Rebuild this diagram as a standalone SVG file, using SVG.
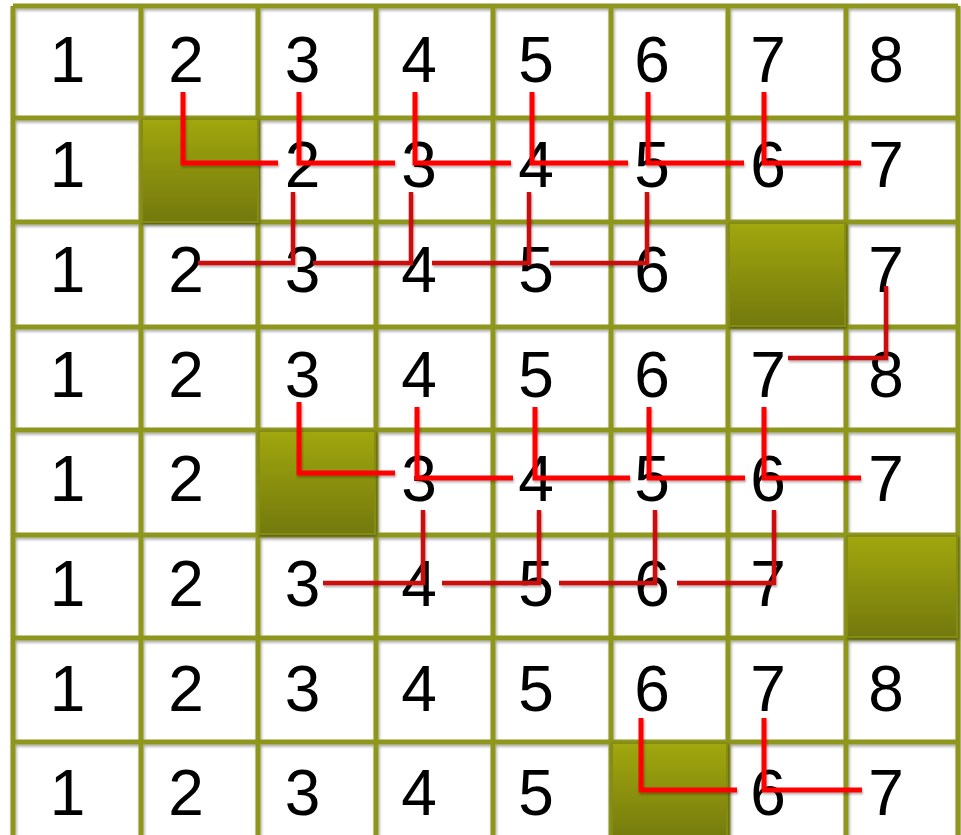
<svg xmlns="http://www.w3.org/2000/svg" width="961" height="835" viewBox="0 0 961 835">
<defs>
<linearGradient id="olive" x1="0" y1="0" x2="0" y2="1">
<stop offset="0" stop-color="#a1a70c"/>
<stop offset="1" stop-color="#737907"/>
</linearGradient>
<filter id="sh" x="-10%" y="-10%" width="130%" height="130%">
<feGaussianBlur in="SourceAlpha" stdDeviation="1.5"/>
<feOffset dx="1" dy="2" result="b"/>
<feComponentTransfer><feFuncA type="linear" slope="0.35"/></feComponentTransfer>
<feMerge><feMergeNode/><feMergeNode in="SourceGraphic"/></feMerge>
</filter>
<filter id="lsh" x="-20%" y="-20%" width="140%" height="140%">
<feGaussianBlur in="SourceAlpha" stdDeviation="1"/>
<feOffset dx="1" dy="1.5"/>
<feComponentTransfer><feFuncA type="linear" slope="0.3"/></feComponentTransfer>
<feMerge><feMergeNode/><feMergeNode in="SourceGraphic"/></feMerge>
</filter>
</defs>
<style>
.grid{fill:none;stroke:#8e961f;stroke-width:5}
.dark{fill:url(#olive);stroke:#858c12;stroke-width:2}
.n{font-family:"Liberation Sans",Arial,sans-serif;font-size:64px;fill:#000;text-anchor:middle}
.br{fill:none;stroke:#ff0000;stroke-width:5;stroke-linejoin:miter}
.dr{fill:none;stroke:#cc0d0d;stroke-width:4.5;stroke-linejoin:miter}
</style>
<rect x="0" y="0" width="961" height="835" fill="#ffffff"/>
<g id="grid" filter="url(#sh)">
<path class="grid" d="M13,6V835M141,6V835M258,6V835M376,6V835M493,6V835M611,6V835M728,6V835M846,6V835M958,6V835M13,6H958M13,118H958M13,222H958M13,327H958M13,430H958M13,535H958M13,638H958M13,742H958"/>
</g>
<g id="blocks" filter="url(#sh)">
<rect id="block-r2c2" class="dark" x="142" y="119" width="116" height="103"/>
<rect id="block-r3c7" class="dark" x="729" y="223" width="116" height="103"/>
<rect id="block-r5c3" class="dark" x="259" y="431" width="116" height="103"/>
<rect id="block-r6c8" class="dark" x="847" y="536" width="110" height="101"/>
<rect id="block-r8c6" class="dark" x="612" y="743" width="115" height="100"/>
</g>
<g id="r1">
<g id="r1c1"><text class="n" x="67.5" y="82">1</text></g>
<g id="r1c2"><text class="n" x="186" y="82">2</text></g>
<g id="r1c3"><text class="n" x="302.5" y="82">3</text></g>
<g id="r1c4"><text class="n" x="419" y="82">4</text></g>
<g id="r1c5"><text class="n" x="536" y="82">5</text></g>
<g id="r1c6"><text class="n" x="652" y="82">6</text></g>
<g id="r1c7"><text class="n" x="768" y="82">7</text></g>
<g id="r1c8"><text class="n" x="886" y="82">8</text></g>
</g>
<g id="r2">
<g id="r2c1"><text class="n" x="67.5" y="187">1</text></g>
<g id="r2c3"><text class="n" x="302.5" y="187">2</text></g>
<g id="r2c4"><text class="n" x="419" y="187">3</text></g>
<g id="r2c5"><text class="n" x="536" y="187">4</text></g>
<g id="r2c6"><text class="n" x="652" y="187">5</text></g>
<g id="r2c7"><text class="n" x="768" y="187">6</text></g>
<g id="r2c8"><text class="n" x="886" y="187">7</text></g>
</g>
<g id="r3">
<g id="r3c1"><text class="n" x="67.5" y="292">1</text></g>
<g id="r3c2"><text class="n" x="186" y="292">2</text></g>
<g id="r3c3"><text class="n" x="302.5" y="292">3</text></g>
<g id="r3c4"><text class="n" x="419" y="292">4</text></g>
<g id="r3c5"><text class="n" x="536" y="292">5</text></g>
<g id="r3c6"><text class="n" x="652" y="292">6</text></g>
<g id="r3c8"><text class="n" x="886" y="292">7</text></g>
</g>
<g id="r4">
<g id="r4c1"><text class="n" x="67.5" y="397">1</text></g>
<g id="r4c2"><text class="n" x="186" y="397">2</text></g>
<g id="r4c3"><text class="n" x="302.5" y="397">3</text></g>
<g id="r4c4"><text class="n" x="419" y="397">4</text></g>
<g id="r4c5"><text class="n" x="536" y="397">5</text></g>
<g id="r4c6"><text class="n" x="652" y="397">6</text></g>
<g id="r4c7"><text class="n" x="768" y="397">7</text></g>
<g id="r4c8"><text class="n" x="886" y="397">8</text></g>
</g>
<g id="r5">
<g id="r5c1"><text class="n" x="67.5" y="501">1</text></g>
<g id="r5c2"><text class="n" x="186" y="501">2</text></g>
<g id="r5c4"><text class="n" x="419" y="501">3</text></g>
<g id="r5c5"><text class="n" x="536" y="501">4</text></g>
<g id="r5c6"><text class="n" x="652" y="501">5</text></g>
<g id="r5c7"><text class="n" x="768" y="501">6</text></g>
<g id="r5c8"><text class="n" x="886" y="501">7</text></g>
</g>
<g id="r6">
<g id="r6c1"><text class="n" x="67.5" y="606">1</text></g>
<g id="r6c2"><text class="n" x="186" y="606">2</text></g>
<g id="r6c3"><text class="n" x="302.5" y="606">3</text></g>
<g id="r6c4"><text class="n" x="419" y="606">4</text></g>
<g id="r6c5"><text class="n" x="536" y="606">5</text></g>
<g id="r6c6"><text class="n" x="652" y="606">6</text></g>
<g id="r6c7"><text class="n" x="768" y="606">7</text></g>
</g>
<g id="r7">
<g id="r7c1"><text class="n" x="67.5" y="711">1</text></g>
<g id="r7c2"><text class="n" x="186" y="711">2</text></g>
<g id="r7c3"><text class="n" x="302.5" y="711">3</text></g>
<g id="r7c4"><text class="n" x="419" y="711">4</text></g>
<g id="r7c5"><text class="n" x="536" y="711">5</text></g>
<g id="r7c6"><text class="n" x="652" y="711">6</text></g>
<g id="r7c7"><text class="n" x="768" y="711">7</text></g>
<g id="r7c8"><text class="n" x="886" y="711">8</text></g>
</g>
<g id="r8">
<g id="r8c1"><text class="n" x="67.5" y="815">1</text></g>
<g id="r8c2"><text class="n" x="186" y="815">2</text></g>
<g id="r8c3"><text class="n" x="302.5" y="815">3</text></g>
<g id="r8c4"><text class="n" x="419" y="815">4</text></g>
<g id="r8c5"><text class="n" x="536" y="815">5</text></g>
<g id="r8c7"><text class="n" x="768" y="815">6</text></g>
<g id="r8c8"><text class="n" x="886" y="815">7</text></g>
</g>
<g id="connectors" filter="url(#lsh)">
<path class="br" d="M183,92V163H278"/>
<path class="br" d="M299,92V163H395"/>
<path class="br" d="M415,92V163H511"/>
<path class="br" d="M532,92V163H628"/>
<path class="br" d="M648,92V163H744"/>
<path class="br" d="M764,92V163H861"/>
<path class="dr" d="M293,192V263H198"/>
<path class="dr" d="M411,192V263H313"/>
<path class="dr" d="M529,192V263H432"/>
<path class="dr" d="M647,192V263H550"/>
<path class="dr" d="M886,286V358H788"/>
<path class="br" d="M299,402V473H395"/>
<path class="br" d="M417,407V478H513"/>
<path class="br" d="M535,407V478H630"/>
<path class="br" d="M649,407V478H745"/>
<path class="br" d="M764,407V478H861"/>
<path class="dr" d="M423,510V583H323"/>
<path class="dr" d="M539,510V583H442"/>
<path class="dr" d="M655,510V583H559"/>
<path class="dr" d="M774,510V583H677"/>
<path class="br" d="M641,718V790H737"/>
<path class="br" d="M764,718V790H862"/>
</g>
</svg>
